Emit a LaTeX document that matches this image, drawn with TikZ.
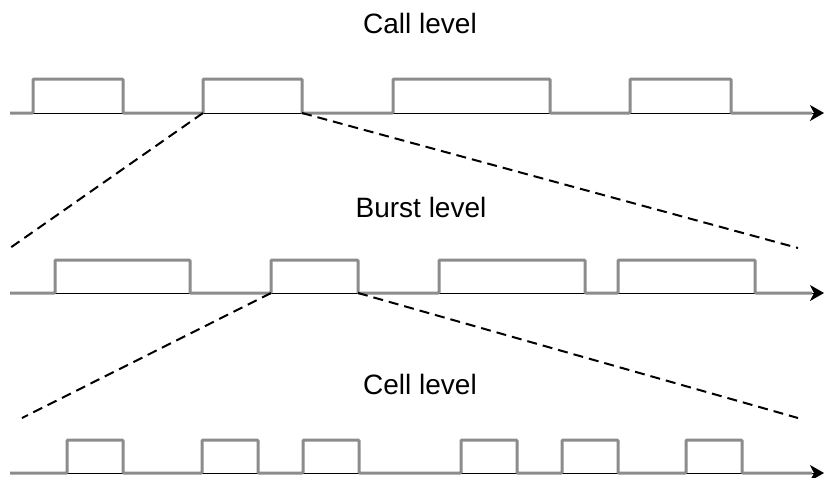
\documentclass[tikz,border=0pt]{standalone}
\usepackage{fontspec}
\setmainfont{Liberation Sans}
\usetikzlibrary{arrows.meta}
\tikzset{
	axisline/.style={line width=1pt, black, -{Stealth[length=14pt,width=16pt,inset=4pt]}},
	signal/.style={line width=3pt, black!45, rounded corners=1pt},
	zoomline/.style={line width=2pt, dash pattern=on 10pt off 6pt},
	levellabel/.style={anchor=base, font=\fontsize{28}{34}\selectfont}
}
\begin{document}
\begin{tikzpicture}[x=1pt, y=-1pt]
				\useasboundingbox (0,0) rectangle (824,477);
				
				% call level
				\node[levellabel] (calltext) at (420,33) {Call level};
				\draw[axisline] (10,113) -- (824,113);
				\draw[signal] (10,113) -| (33,79) -| (123,113) -| (203,79) -| (302,113)
					-| (393,79) -| (550,113) -| (630,79) -| (731,113) -- (812,113);
				\coordinate (callA) at (203,113);
				\coordinate (callB) at (302,113);
				
				% burst level
				\node[levellabel] (bursttext) at (421,217) {Burst level};
				\draw[axisline] (10,293) -- (824,293);
				\draw[signal] (10,293) -| (55,260) -| (190,293) -| (271,260) -| (358,293)
					-| (439,260) -| (585,293) -| (618,260) -| (755,293) -- (812,293);
				\coordinate (burstA) at (271,293);
				\coordinate (burstB) at (358,293);
				
				% cell level
				\node[levellabel] (celltext) at (420,394) {Cell level};
				\draw[axisline] (10,473) -- (824,473);
				\draw[signal] (10,473) -| (67,440) -| (123,473) -| (202,440) -| (258,473)
					-| (303,440) -| (359,473) -| (461,440) -| (517,473) -| (562,440)
					-| (618,473) -| (686,440) -| (742,473) -- (812,473);
				
				% zoom from one level to the next
				\coordinate (burstL) at (10,248);
				\coordinate (burstR) at (798,248);
				\coordinate (cellL) at (22,418);
				\coordinate (cellR) at (798,418);
				\draw[zoomline] (callA) -- (burstL);
				\draw[zoomline] (callB) -- (burstR);
				\draw[zoomline] (burstA) -- (cellL);
				\draw[zoomline] (burstB) -- (cellR);
			\end{tikzpicture}
\end{document}
